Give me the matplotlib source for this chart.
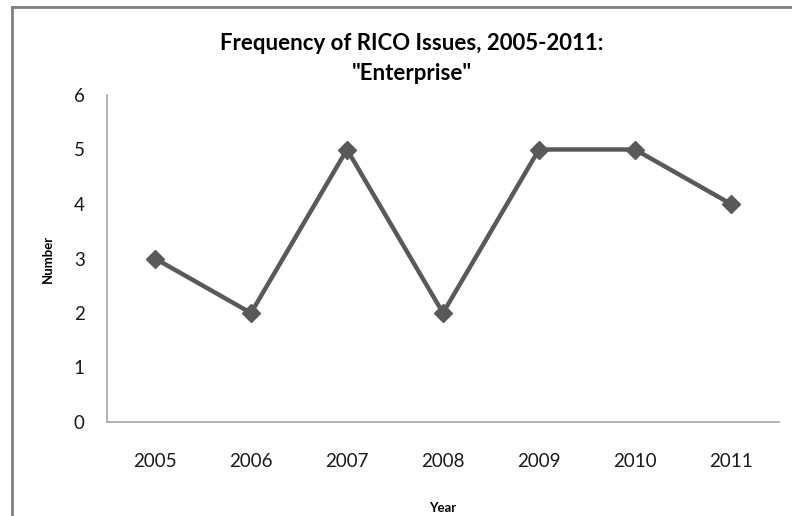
import matplotlib
matplotlib.use("Agg")
import matplotlib.pyplot as plt
from matplotlib.lines import Line2D

years = ["2005", "2006", "2007", "2008", "2009", "2010", "2011"]
counts = [3, 2, 5, 2, 5, 5, 4]
y_ticks = [0, 1, 2, 3, 4, 5, 6]

plt.rcParams["font.family"] = ["Lato", "DejaVu Sans"]

fig = plt.figure(figsize=(7.92, 5.16), dpi=100)
ax = fig.add_axes([107 / 792, 1 - 422 / 516, 672 / 792, 327 / 516])

x = list(range(len(years)))
ax.plot(x, counts, color="#595959", linewidth=3.2, marker="D",
        markersize=9, markerfacecolor="#595959", markeredgecolor="#595959",
        solid_joinstyle="miter")

ax.set_xlim(-0.5, len(years) - 0.5)
ax.set_ylim(0, 6)
ax.set_xticks(x)
ax.set_xticklabels(years)
ax.set_yticks(y_ticks)
ax.set_yticklabels([str(v) for v in y_ticks])

for side in ("top", "right"):
    ax.spines[side].set_visible(False)
for side in ("left", "bottom"):
    ax.spines[side].set_color("#a6a6a6")
    ax.spines[side].set_linewidth(1.2)

ax.tick_params(axis="both", length=0, labelsize=13.5, colors="#1a1a1a")
ax.tick_params(axis="y", pad=16)
ax.tick_params(axis="x", pad=22)

ax.set_xlabel("Year", fontsize=9.5, fontweight="bold", labelpad=23)
ax.set_ylabel("Number", fontsize=9.5, fontweight="bold", labelpad=14)

fig.text(412 / 792, 1 - 44 / 516, "Frequency of RICO Issues, 2005-2011:",
         ha="center", va="center", fontsize=16, fontweight="bold")
fig.text(412 / 792, 1 - 73 / 516, "\"Enterprise\"",
         ha="center", va="center", fontsize=16, fontweight="bold")

# chart-area frame (left and top edges visible)
fig.add_artist(Line2D([12 / 792, 12 / 792], [0, 1 - 7 / 516],
                      transform=fig.transFigure, color="#808080", linewidth=2))
fig.add_artist(Line2D([12 / 792, 1], [1 - 7 / 516, 1 - 7 / 516],
                      transform=fig.transFigure, color="#808080", linewidth=2))

fig.savefig("out.png", dpi=100)
